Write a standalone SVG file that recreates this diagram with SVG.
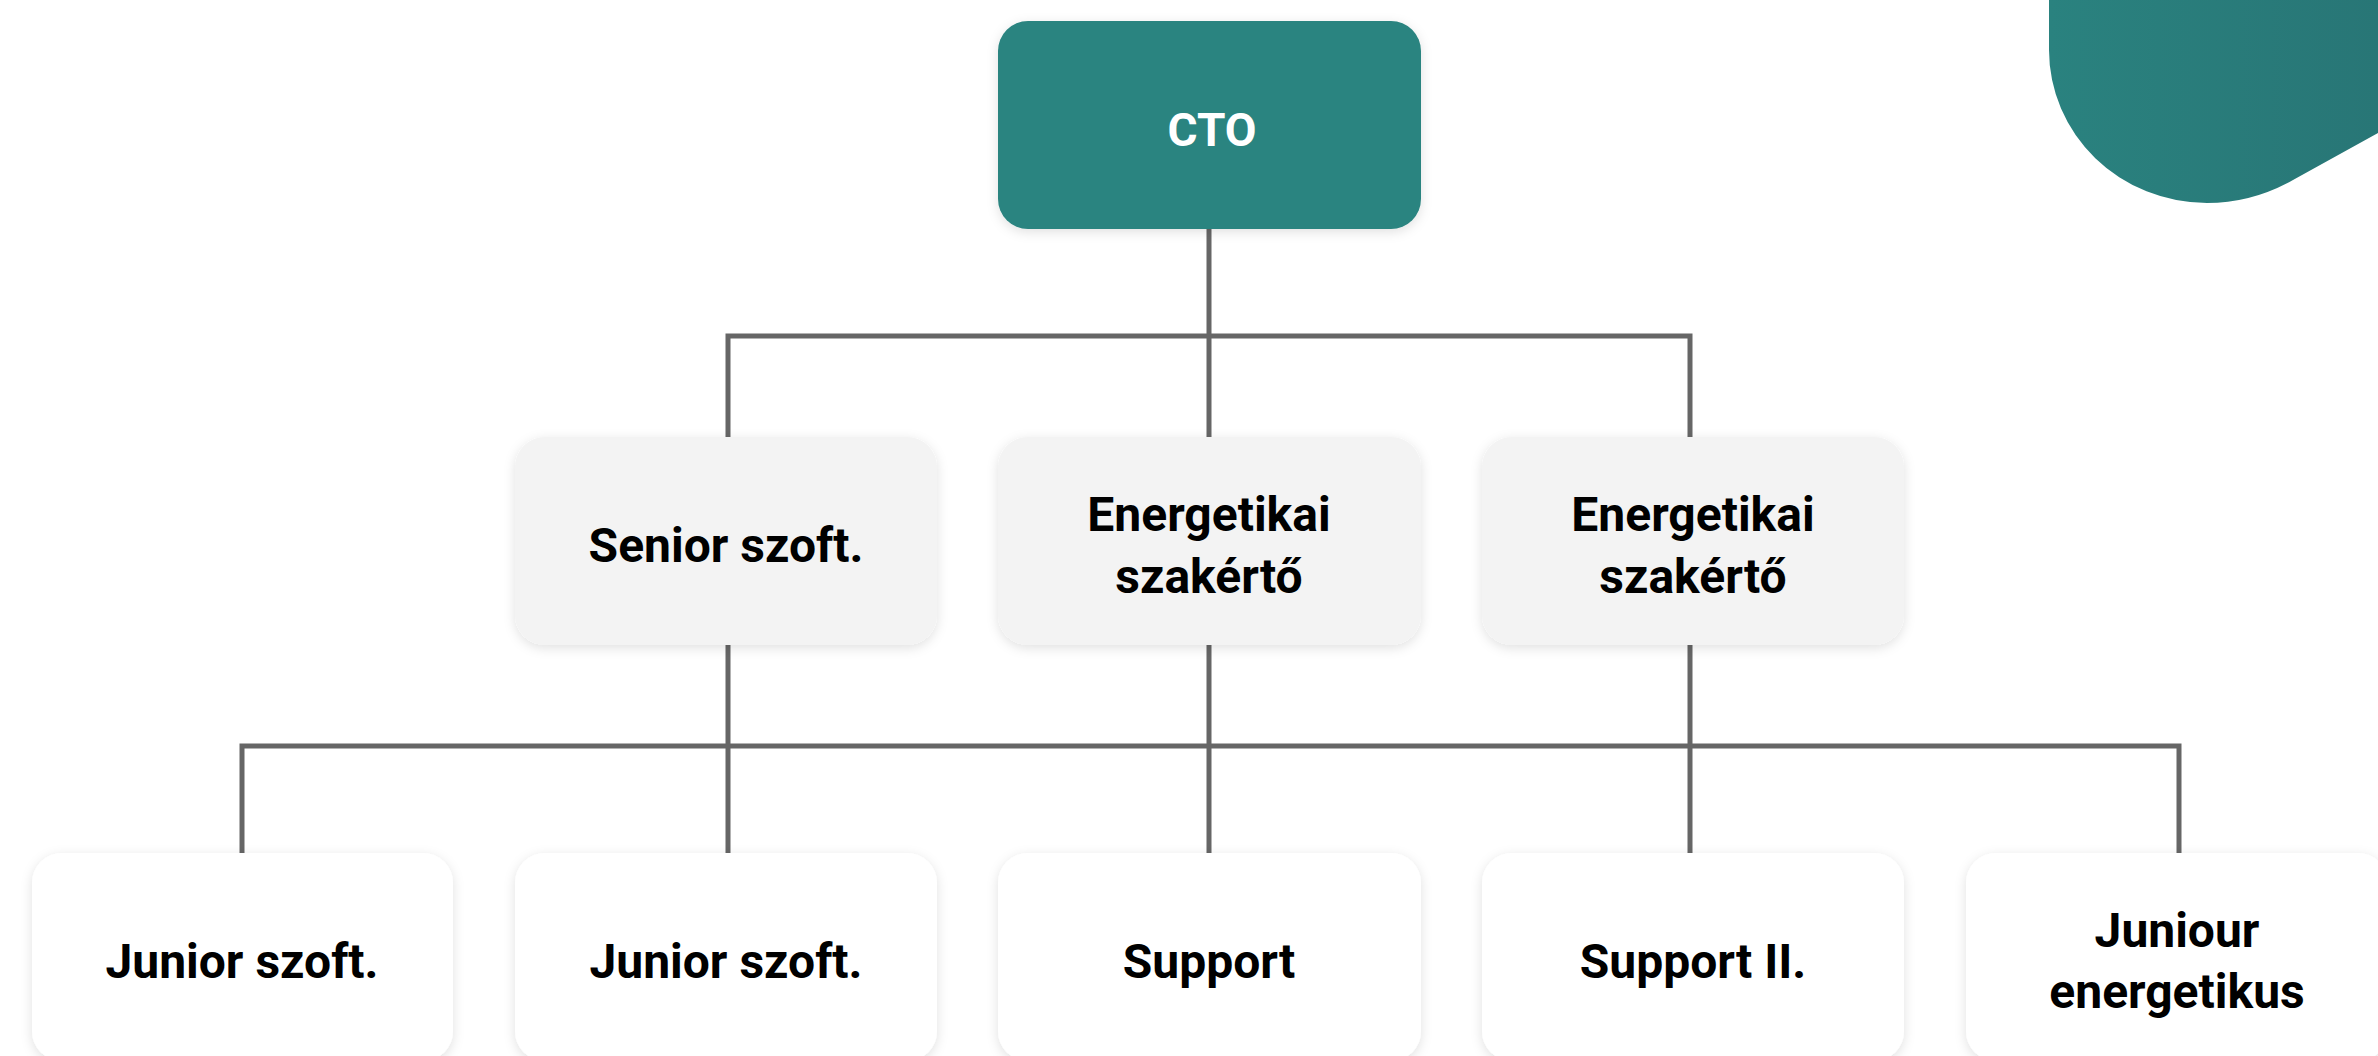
<svg xmlns="http://www.w3.org/2000/svg" width="2378" height="1056" viewBox="0 0 2378 1056">
<defs>
<linearGradient id="blobGrad" x1="0" y1="0" x2="1" y2="0">
<stop offset="0" stop-color="#2a827f"/>
<stop offset="1" stop-color="#287676"/>
</linearGradient>
<filter id="shadow" x="-10%" y="-15%" width="120%" height="130%">
<feDropShadow dx="0" dy="3" stdDeviation="6" flood-color="#000" flood-opacity="0.12"/>
</filter>
<style>
.box{filter:url(#shadow);}
.top{fill:#2b8480;}
.mid{fill:#f3f3f3;}
.bot{fill:#ffffff;}
.lbl{font-family:Roboto,"Liberation Sans",sans-serif;font-weight:700;font-size:48px;fill:#000;text-anchor:middle;}
.lblw{font-family:Roboto,"Liberation Sans",sans-serif;font-weight:700;font-size:46px;fill:#fff;text-anchor:middle;}
.conn{stroke:#666666;stroke-width:5;fill:none;}
</style>
</defs>
<rect width="2378" height="1056" fill="#ffffff"/>
<path d="M2049 0 V50 A158 153 0 0 0 2207 203 Q2252 203 2293 180 L2378 133 V0 Z" fill="url(#blobGrad)"/>
<g id="connectors">
<path class="conn" d="M1209 229 V437"/>
<path class="conn" d="M728 437 V336 H1690 V437"/>
<path class="conn" d="M1209 645 V853"/>
<path class="conn" d="M728 645 V853"/>
<path class="conn" d="M1690 645 V853"/>
<path class="conn" d="M242 853 V746 H2179 V853"/>
</g>
<g id="node-cto">
<rect class="box top" x="998" y="21" width="423" height="208" rx="30"/>
<text class="lblw" x="1212" y="146">CTO</text>
</g>
<g id="node-senior">
<rect class="box mid" x="515" y="437" width="422" height="208" rx="30"/>
<text class="lbl" x="726" y="562">Senior szoft.</text>
</g>
<g id="node-energ1">
<rect class="box mid" x="998" y="437" width="423" height="208" rx="30"/>
<text class="lbl" x="1209" y="531">Energetikai</text>
<text class="lbl" x="1209" y="593">szakértő</text>
</g>
<g id="node-energ2">
<rect class="box mid" x="1482" y="437" width="422" height="208" rx="30"/>
<text class="lbl" x="1693" y="531">Energetikai</text>
<text class="lbl" x="1693" y="593">szakértő</text>
</g>
<g id="node-junior1">
<rect class="box bot" x="32" y="853" width="421" height="208" rx="30"/>
<text class="lbl" x="242" y="978">Junior szoft.</text>
</g>
<g id="node-junior2">
<rect class="box bot" x="515" y="853" width="422" height="208" rx="30"/>
<text class="lbl" x="726" y="978">Junior szoft.</text>
</g>
<g id="node-support">
<rect class="box bot" x="998" y="853" width="423" height="208" rx="30"/>
<text class="lbl" x="1209" y="978">Support</text>
</g>
<g id="node-support2">
<rect class="box bot" x="1482" y="853" width="422" height="208" rx="30"/>
<text class="lbl" x="1693" y="978">Support II.</text>
</g>
<g id="node-juniour">
<rect class="box bot" x="1966" y="853" width="422" height="208" rx="30"/>
<text class="lbl" x="2177" y="947">Juniour</text>
<text class="lbl" x="2177" y="1008">energetikus</text>
</g>
</svg>
